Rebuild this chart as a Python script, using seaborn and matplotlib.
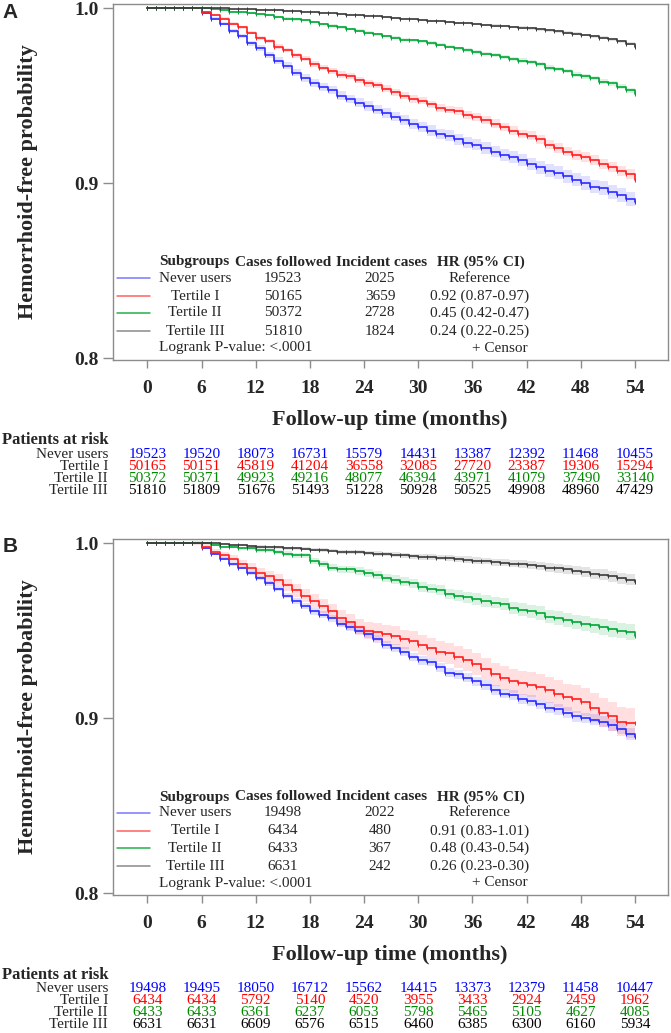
import numpy as np
import pandas as pd
import matplotlib
matplotlib.use("Agg")
import matplotlib.pyplot as plt
import matplotlib.transforms as mtrans
from matplotlib.lines import Line2D
import seaborn as sns

# ---------------- data ----------------
groups = ["Never users", "Tertile I", "Tertile II", "Tertile III"]
months = list(range(0, 55))
tick_months = [0, 6, 12, 18, 24, 30, 36, 42, 48, 54]

# Panel A survival (monthly)
a_never = [1.0, 1.0, 1.0, 1.0, 1.0, 1.0, 0.997, 0.994, 0.991, 0.987, 0.984, 0.980, 0.977, 0.973, 0.970,
           0.967, 0.963, 0.960, 0.957, 0.955, 0.953, 0.950, 0.948, 0.946, 0.944, 0.942, 0.940, 0.938,
           0.936, 0.934, 0.932, 0.930, 0.928, 0.927, 0.925, 0.923, 0.922, 0.920, 0.918, 0.916, 0.915,
           0.913, 0.911, 0.909, 0.907, 0.906, 0.904, 0.902, 0.900, 0.898, 0.897, 0.895, 0.893, 0.891, 0.889]
a_t1 = [1.0, 1.0, 1.0, 1.0, 1.0, 1.0, 0.998, 0.996, 0.994, 0.991, 0.989, 0.986, 0.983, 0.981, 0.978,
        0.976, 0.973, 0.971, 0.968, 0.966, 0.964, 0.962, 0.961, 0.959, 0.957, 0.956, 0.954, 0.952,
        0.950, 0.948, 0.947, 0.945, 0.943, 0.942, 0.941, 0.939, 0.938, 0.936, 0.934, 0.932, 0.930,
        0.928, 0.927, 0.925, 0.922, 0.920, 0.918, 0.916, 0.915, 0.913, 0.911, 0.909, 0.907, 0.905, 0.902]
a_t2 = [1.0, 1.0, 1.0, 1.0, 1.0, 1.0, 1.0, 0.9995, 0.999, 0.998, 0.9975, 0.997, 0.9965, 0.996, 0.995,
        0.994, 0.9935, 0.993, 0.992, 0.991, 0.990, 0.989, 0.988, 0.987, 0.986, 0.985, 0.984, 0.983,
        0.982, 0.9815, 0.981, 0.980, 0.979, 0.978, 0.977, 0.976, 0.975, 0.974, 0.973, 0.972, 0.971,
        0.970, 0.969, 0.968, 0.966, 0.965, 0.964, 0.962, 0.961, 0.960, 0.958, 0.957, 0.955, 0.953, 0.951]
a_t3 = [1.0, 1.0, 1.0, 1.0, 1.0, 1.0, 1.0, 1.0, 0.9998, 0.9996, 0.9994, 0.9992, 0.999, 0.9988, 0.9986,
        0.9984, 0.9982, 0.998, 0.9977, 0.9973, 0.997, 0.9966, 0.9963, 0.996, 0.9956, 0.9952, 0.9948,
        0.9944, 0.994, 0.9936, 0.9932, 0.9928, 0.9924, 0.992, 0.9916, 0.9912, 0.9908, 0.9904, 0.990,
        0.9896, 0.9892, 0.9888, 0.9884, 0.9878, 0.9872, 0.9866, 0.986, 0.9853, 0.9846, 0.9838, 0.983,
        0.9821, 0.9809, 0.9796, 0.978]

# Panel B survival (monthly)
b_never = [1.0, 1.0, 1.0, 1.0, 1.0, 1.0, 0.997, 0.994, 0.991, 0.988, 0.986, 0.983, 0.980, 0.977, 0.974,
           0.970, 0.967, 0.964, 0.961, 0.959, 0.957, 0.954, 0.952, 0.950, 0.948, 0.945, 0.942, 0.940,
           0.938, 0.935, 0.933, 0.932, 0.929, 0.926, 0.925, 0.923, 0.921, 0.919, 0.916, 0.914, 0.913,
           0.911, 0.910, 0.908, 0.906, 0.905, 0.903, 0.901, 0.900, 0.899, 0.898, 0.896, 0.894, 0.891, 0.889]
b_t1 = [1.0, 1.0, 1.0, 1.0, 1.0, 1.0, 0.998, 0.995, 0.993, 0.991, 0.988, 0.986, 0.983, 0.981, 0.979,
        0.976, 0.973, 0.970, 0.967, 0.964, 0.961, 0.957, 0.955, 0.952, 0.950, 0.949, 0.948, 0.947,
        0.945, 0.944, 0.942, 0.940, 0.938, 0.937, 0.935, 0.933, 0.931, 0.928, 0.925, 0.923, 0.921,
        0.920, 0.919, 0.918, 0.916, 0.914, 0.912, 0.911, 0.909, 0.906, 0.903, 0.901, 0.898, 0.897, 0.897]
b_t2 = [1.0, 1.0, 1.0, 1.0, 1.0, 1.0, 1.0, 0.999, 0.998, 0.998, 0.997, 0.997, 0.996, 0.996, 0.995,
        0.994, 0.993, 0.993, 0.990, 0.988, 0.986, 0.985, 0.985, 0.984, 0.983, 0.982, 0.980, 0.979,
        0.978, 0.977, 0.975, 0.974, 0.973, 0.971, 0.970, 0.969, 0.968, 0.967, 0.966, 0.965, 0.963,
        0.962, 0.961, 0.960, 0.958, 0.957, 0.956, 0.955, 0.954, 0.953, 0.952, 0.951, 0.950, 0.949, 0.947]
b_t3 = [1.0, 1.0, 1.0, 1.0, 1.0, 1.0, 1.0, 1.0, 0.9995, 0.999, 0.9988, 0.9985, 0.998, 0.9978, 0.9975,
        0.997, 0.997, 0.9967, 0.9963, 0.996, 0.9957, 0.995, 0.995, 0.9948, 0.9945, 0.994, 0.9937,
        0.9933, 0.993, 0.9925, 0.992, 0.992, 0.9917, 0.9913, 0.991, 0.9905, 0.990, 0.9897, 0.989,
        0.9887, 0.9882, 0.9878, 0.9873, 0.9868, 0.986, 0.9857, 0.985, 0.9843, 0.9835, 0.9825, 0.982,
        0.981, 0.980, 0.979, 0.9776]

# 95% CI half-widths read at the tick months
a_ci = {
    "Never users": [0, 0.0006, 0.0016, 0.0022, 0.0026, 0.0029, 0.0032, 0.0035, 0.0038, 0.0041],
    "Tertile I":   [0, 0.0005, 0.0012, 0.0016, 0.0019, 0.0021, 0.0023, 0.0025, 0.0027, 0.0030],
    "Tertile II":  [0, 0.0002, 0.0005, 0.0007, 0.0008, 0.0009, 0.0010, 0.0012, 0.0013, 0.0015],
    "Tertile III": [0, 0.0000, 0.0002, 0.0003, 0.0004, 0.0005, 0.0006, 0.0007, 0.0008, 0.0010],
}
b_ci = {
    "Never users": [0, 0.0005, 0.0014, 0.0019, 0.0022, 0.0025, 0.0027, 0.0029, 0.0031, 0.0033],
    "Tertile I":   [0, 0.0012, 0.0030, 0.0040, 0.0050, 0.0057, 0.0064, 0.0072, 0.0080, 0.0088],
    "Tertile II":  [0, 0.0003, 0.0010, 0.0017, 0.0022, 0.0027, 0.0032, 0.0037, 0.0042, 0.0047],
    "Tertile III": [0, 0.0002, 0.0006, 0.0009, 0.0012, 0.0015, 0.0019, 0.0023, 0.0028, 0.0033],
}

a_cases = ["19523", "50165", "50372", "51810"]
a_incident = ["2025", "3659", "2728", "1824"]
a_hr = ["Reference", "0.92 (0.87-0.97)", "0.45 (0.42-0.47)", "0.24 (0.22-0.25)"]
b_cases = ["19498", "6434", "6433", "6631"]
b_incident = ["2022", "480", "367", "242"]
b_hr = ["Reference", "0.91 (0.83-1.01)", "0.48 (0.43-0.54)", "0.26 (0.23-0.30)"]

a_risk = [
    [19523, 19520, 18073, 16731, 15579, 14431, 13387, 12392, 11468, 10455],
    [50165, 50151, 45819, 41204, 36558, 32085, 27720, 23387, 19306, 15294],
    [50372, 50371, 49923, 49216, 48077, 46394, 43971, 41079, 37490, 33140],
    [51810, 51809, 51676, 51493, 51228, 50928, 50525, 49908, 48960, 47429],
]
b_risk = [
    [19498, 19495, 18050, 16712, 15562, 14415, 13373, 12379, 11458, 10447],
    [6434, 6434, 5792, 5140, 4520, 3955, 3433, 2924, 2459, 1962],
    [6433, 6433, 6361, 6237, 6053, 5798, 5465, 5105, 4627, 4085],
    [6631, 6631, 6609, 6576, 6515, 6460, 6385, 6300, 6160, 5934],
]

# ---------------- styles ----------------
line_colors = {"Never users": "#2b2bff", "Tertile I": "#ff2020", "Tertile II": "#00a637", "Tertile III": "#3a3a3a"}
legend_colors = ["#7878ff", "#ff6060", "#22b04a", "#8a8a8a"]
table_colors = ["#0000ff", "#ff0000", "#008a00", "#000000"]

sns.set_style("white")
plt.rcParams["font.family"] = ["Liberation Serif", "DejaVu Serif"]

W, H = 671, 1033
fig = plt.figure(figsize=(W / 100, H / 100), dpi=100)


def fx(x):
    return x / W


def fy(y):
    return 1 - y / H


def draw_panel(letter, off, surv, ci, cases, incident, hr, risk):
    top, bottom, left, right = 4 + off, 360 + off, 113, 668
    ax = fig.add_axes([fx(left), fy(bottom), fx(right - left), (bottom - top) / H])
    rows = []
    for g, s in zip(groups, surv):
        for m, v in zip(months, s):
            rows.append({"month": m, "surv": v, "group": g})
    df = pd.DataFrame(rows)
    # confidence bands
    for g, s in zip(groups, surv):
        hw = np.interp(months, tick_months, ci[g])
        s = np.array(s)
        ax.fill_between(months, s - hw, s + hw, step="post",
                        color=line_colors[g], alpha=0.14, lw=0)
    sns.lineplot(data=df, x="month", y="surv", hue="group", hue_order=groups,
                 palette=line_colors, drawstyle="steps-post", estimator=None,
                 legend=False, lw=1.2, ax=ax)
    for g, s in zip(groups, surv):
        ax.plot(months, s, ls="none", marker="|", ms=2.5, mew=0.7, color=line_colors[g])

    ax.set_xlim(-3.8, 57.65)
    ax.set_ylim(0.7989, 1.0023)
    ax.set_xticks(tick_months)
    ax.set_yticks([0.8, 0.9, 1.0])
    ax.set_yticklabels(["0.8", "0.9", "1.0"])
    ax.set_xlabel("")
    ax.set_ylabel("")
    for sp in ax.spines.values():
        sp.set_color("#8c8c8c")
        sp.set_linewidth(1.0)
        sp.set_visible(True)
    ax.tick_params(axis="x", direction="out", length=5.5, width=1, color="#8c8c8c",
                   pad=9, labelsize=14, bottom=True)
    ax.tick_params(axis="y", direction="out", length=7, width=1, color="#8c8c8c",
                   pad=3.5, labelsize=14, left=True)
    for lab in ax.get_xticklabels() + ax.get_yticklabels():
        lab.set_fontweight("bold")

    # axis titles
    fig.text(fx(28), fy(182 + off), "Hemorrhoid-free probability", rotation=90,
             ha="center", va="center", fontsize=16, fontweight="bold")
    fig.text(fx(390), fy(420 + off), "Follow-up time (months)",
             ha="center", va="center", fontsize=16, fontweight="bold")
    fig.text(fx(10), fy(12 + off), letter, ha="center", va="center", fontsize=15,
             fontweight="bold", family="Liberation Sans")

    # legend block inside the axes
    hy = 262 + off
    fig.text(fx(159), fy(hy), "Subgroups", ha="left", va="center", fontsize=11, fontweight="bold")
    fig.text(fx(235), fy(hy), "Cases followed", ha="left", va="center", fontsize=11, fontweight="bold")
    fig.text(fx(336), fy(hy), "Incident cases", ha="left", va="center", fontsize=11, fontweight="bold")
    fig.text(fx(437), fy(hy), "HR (95% CI)", ha="left", va="center", fontsize=11, fontweight="bold")
    row_y = [278, 296, 313, 331]
    for i, g in enumerate(groups):
        y = row_y[i] + off
        fig.add_artist(Line2D([fx(117), fx(150)], [fy(y), fy(y)], color=legend_colors[i], lw=1.1,
                              transform=fig.transFigure))
        fig.text(fx(195), fy(y), g, ha="center", va="center", fontsize=11)
        fig.text(fx(283), fy(y), cases[i], ha="center", va="center", fontsize=11)
        fig.text(fx(380), fy(y), incident[i], ha="center", va="center", fontsize=11)
        fig.text(fx(480), fy(y), hr[i], ha="center", va="center", fontsize=11)
    fig.text(fx(159), fy(348 + off), "Logrank P-value: <.0001", ha="left", va="center", fontsize=11)
    fig.text(fx(528), fy(348 + off), "+ Censor", ha="right", va="center", fontsize=11)

    # patients at risk table
    fig.text(fx(2), fy(440 + off), "Patients at risk", ha="left", va="center",
             fontsize=12, fontweight="bold")
    tr = mtrans.blended_transform_factory(ax.transData, fig.transFigure)
    trow = [454, 466, 478, 490]
    for i, g in enumerate(groups):
        y = fy(trow[i] + off)
        fig.text(fx(108), y, g, ha="right", va="center", fontsize=11)
        for m, n in zip(tick_months, risk[i]):
            ax.text(m, y, str(n), transform=tr, ha="center", va="center", fontsize=11,
                    color=table_colors[i], clip_on=False)
    return ax


draw_panel("A", 0, [a_never, a_t1, a_t2, a_t3], a_ci, a_cases, a_incident, a_hr, a_risk)
draw_panel("B", 535, [b_never, b_t1, b_t2, b_t3], b_ci, b_cases, b_incident, b_hr, b_risk)

fig.savefig("out.png", dpi=100)
